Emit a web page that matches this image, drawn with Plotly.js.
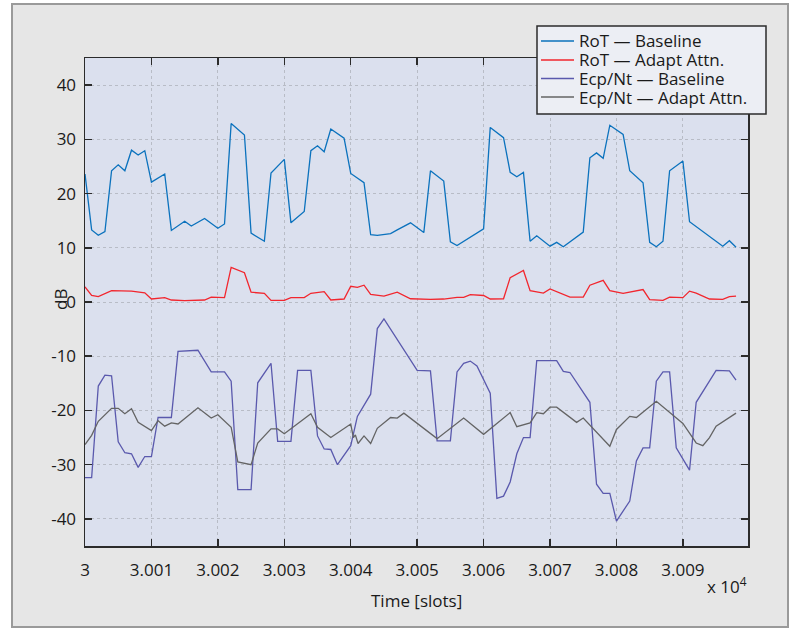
<!DOCTYPE html>
<html>
<head>
<meta charset="utf-8">
<script src="https://cdn.plot.ly/plotly-3.0.1.min.js"></script>
<style>
  html, body { margin: 0; padding: 0; background: #ffffff; }
  #frame { position: absolute; left: 11px; top: 3px; width: 774px; height: 621px;
           background: #e6e6e6; border: 2px solid #9a9a9a; }
  #chart { position: absolute; left: 0; top: 0; width: 797px; height: 633px; }
</style>
</head>
<body>
<div id="frame"></div>
<div id="chart"></div>
<script>
// ---- data (time offsets in slots from T0, values in dB) ----
const T0 = 30000;

const rotBaseT = [0,1,2,3,4,5,6,7,8,9,10,12,13,15,16,18,20,21,22,24,25,27,28,30,31,33,34,35,36,37,39,40,42,43,44,46,47,49,51,52,54,55,56,60,61,63,64,65,66,67,68,70,71,72,75,76,77,78,79,81,82,84,85,86,87,88,90,91,96,97,98];
const rotBaseV = [23.6,13.3,12.3,13.0,24.2,25.3,24.2,28.0,27.1,27.9,22.1,23.6,13.2,14.9,14.0,15.4,13.6,14.4,32.9,30.8,12.7,11.2,23.8,26.3,14.6,16.7,27.9,28.8,27.7,31.9,30.2,23.7,22.0,12.4,12.3,12.6,13.3,14.6,12.8,24.2,22.3,11.1,10.4,13.5,32.2,30.3,23.9,23.1,23.9,11.2,12.2,10.3,11.0,10.2,12.9,26.6,27.5,26.5,32.6,30.9,24.2,22.0,11.0,10.2,11.2,24.2,26.0,14.8,10.3,11.3,10.1];

const rotAdaptT = [0,1,2,4,7,9,10,12,13,15,18,19,21,22,24,25,27,28,30,31,33,34,36,37,39,40,41,42,43,45,47,49,52,54,56,57,58,60,61,63,64,66,67,69,70,73,75,76,78,79,81,84,85,87,88,90,91,92,94,96,97,98];
const rotAdaptV = [2.8,1.2,1.0,2.1,2.0,1.7,0.55,0.8,0.37,0.26,0.37,0.9,0.8,6.4,5.4,1.8,1.6,0.3,0.3,0.8,0.8,1.6,1.9,0.37,0.55,2.9,2.7,3.1,1.4,1.1,1.8,0.6,0.5,0.55,0.86,0.86,1.35,1.2,0.55,0.6,4.5,5.8,2.1,1.65,2.4,0.9,0.9,3.1,4.0,2.1,1.6,2.3,0.44,0.3,0.9,0.8,2.0,1.65,0.55,0.5,1.0,1.1];

const ecpBaseT = [0,1,2,3,4,5,6,7,8,9,10,11,13,14,17,19,21,22,23,25,26,28,29,31,32,34,35,36,37,38,40,41,43,44,45,50,52,53,55,56,57,58,59,61,62,63,64,65,66,67,68,71,72,73,76,77,78,79,80,82,83,84,85,86,87,88,89,91,92,95,97,98];
const ecpBaseV = [-32.4,-32.4,-15.5,-13.5,-13.6,-25.8,-27.8,-28.0,-30.5,-28.5,-28.5,-21.3,-21.3,-9.1,-8.9,-12.9,-12.9,-14.6,-34.6,-34.6,-14.9,-11.3,-25.7,-25.7,-12.6,-12.6,-24.7,-27.1,-27.2,-30.0,-26.5,-21.1,-17.0,-4.9,-3.1,-12.6,-12.7,-25.6,-25.6,-12.9,-11.3,-10.9,-11.8,-16.8,-36.2,-35.8,-33.2,-28.0,-25.0,-25.0,-10.8,-10.8,-12.8,-13.0,-18.5,-33.6,-35.3,-35.3,-40.4,-36.7,-29.3,-26.9,-26.9,-14.6,-12.9,-12.9,-26.9,-31.0,-18.5,-12.6,-12.7,-14.4];

const ecpAdaptT = [0,1,2,4,5,6,7,8,10,11,12,13,14,17,19,20,22,23,25,26,28,29,30,34,35,37,40,40.4,40.7,41.1,42,43,44,46,47,48,53,57,60,64,65,67,68,69,70,71,74,75,79,80,82,83,86,90,91,92,93,94,95,98];
const ecpAdaptV = [-26.3,-24.6,-22.0,-19.6,-19.6,-20.6,-19.7,-22.2,-23.7,-21.9,-22.9,-22.3,-22.5,-19.5,-21.4,-20.8,-23.1,-29.5,-30.0,-26.0,-23.4,-23.4,-24.3,-20.6,-23.1,-25.0,-22.5,-25.0,-24.5,-26.1,-24.7,-26.1,-23.3,-21.3,-21.4,-20.5,-25.2,-21.4,-24.4,-20.4,-23.0,-22.3,-20.4,-20.6,-19.4,-19.4,-22.2,-21.4,-26.6,-23.5,-21.1,-21.3,-18.3,-22.4,-24.2,-26.0,-26.5,-25.0,-22.9,-20.5];

const seriesNames = ["RoT \u2014 Baseline", "RoT \u2014 Adapt Attn.", "Ecp/Nt \u2014 Baseline", "Ecp/Nt \u2014 Adapt Attn."];
const seriesColors = ["#0b72bd", "#f2262e", "#5a59ad", "#646464"];

const xTickVals = [0,10,20,30,40,50,60,70,80,90];
const xTickText = ["3","3.001","3.002","3.003","3.004","3.005","3.006","3.007","3.008","3.009"];
const yTickVals = [-40,-30,-20,-10,0,10,20,30,40];

// ---- geometry helpers (pixel -> paper) ----
const W = 797, H = 633;
const M = {l: 85, r: 49, t: 58, b: 87};
const PW = W - M.l - M.r, PH = H - M.t - M.b;
const xp = px => (px - M.l) / PW;
const yp = py => (H - M.b - py) / PH;

const FONT = "Open Sans, Liberation Sans, sans-serif";

const tAll = [rotBaseT, rotAdaptT, ecpBaseT, ecpAdaptT];
const vAll = [rotBaseV, rotAdaptV, ecpBaseV, ecpAdaptV];

const traces = tAll.map((t, i) => ({
  type: "scatter", mode: "lines",
  x: t.map(v => T0 + v), y: vAll[i],
  name: seriesNames[i],
  line: {color: seriesColors[i], width: 1.3},
  showlegend: false, hoverinfo: "skip"
}));

// custom legend matching the reference box
const legRows = [41, 60, 78.5, 97];
const shapes = [{
  type: "rect", xref: "paper", yref: "paper",
  x0: xp(537), x1: xp(766), y0: yp(114), y1: yp(26),
  fillcolor: "#eceef4", line: {color: "#2b2b2b", width: 1.5}
}];
const annotations = [];
seriesNames.forEach((n, i) => {
  shapes.push({type: "line", xref: "paper", yref: "paper",
    x0: xp(541), x1: xp(574), y0: yp(legRows[i]), y1: yp(legRows[i]),
    line: {color: seriesColors[i], width: 1.6}});
  annotations.push({xref: "paper", yref: "paper", x: xp(577), y: yp(legRows[i]),
    xanchor: "left", yanchor: "middle", showarrow: false, text: n,
    font: {family: FONT, size: 17, color: "#1a1a1a"}});
});
annotations.push({xref: "paper", yref: "paper", x: xp(749), y: yp(585),
  xanchor: "right", yanchor: "middle", showarrow: false, text: "x 10<sup>4</sup>",
  font: {family: FONT, size: 17, color: "#1a1a1a"}});
annotations.push({xref: "paper", yref: "paper", x: xp(416), y: yp(600),
  xanchor: "center", yanchor: "middle", showarrow: false, text: "Time [slots]",
  font: {family: FONT, size: 17, color: "#1a1a1a"}});
annotations.push({xref: "paper", yref: "paper", x: xp(60), y: yp(300),
  xanchor: "center", yanchor: "middle", showarrow: false, text: "dB", textangle: -90,
  font: {family: FONT, size: 17, color: "#1a1a1a"}});

const axisCommon = {
  showline: true, linecolor: "#2b2b2b", linewidth: 1.5, mirror: "ticks",
  ticks: "inside", ticklen: 7, tickwidth: 1.5, tickcolor: "#2b2b2b",
  showgrid: true, gridcolor: "#b8bcc6", gridwidth: 1, griddash: "dot",
  zeroline: false, tickfont: {family: FONT, size: 17, color: "#1a1a1a"},
  fixedrange: true
};

const layout = {
  width: W, height: H, margin: M,
  paper_bgcolor: "rgba(0,0,0,0)", plot_bgcolor: "#dbe0ee",
  xaxis: Object.assign({}, axisCommon, {
    range: [T0, T0 + 99.8], tickmode: "array",
    tickvals: xTickVals.map(v => T0 + v), ticktext: xTickText,
    ticklabelstandoff: 8
  }),
  yaxis: Object.assign({}, axisCommon, {
    range: [-45, 45], tickmode: "array", tickvals: yTickVals,
    ticktext: yTickVals.map(String), ticklabelstandoff: 4
  }),
  shapes: shapes, annotations: annotations, showlegend: false
};

Plotly.newPlot("chart", traces, layout, {staticPlot: true, displayModeBar: false});
</script>
</body>
</html>
